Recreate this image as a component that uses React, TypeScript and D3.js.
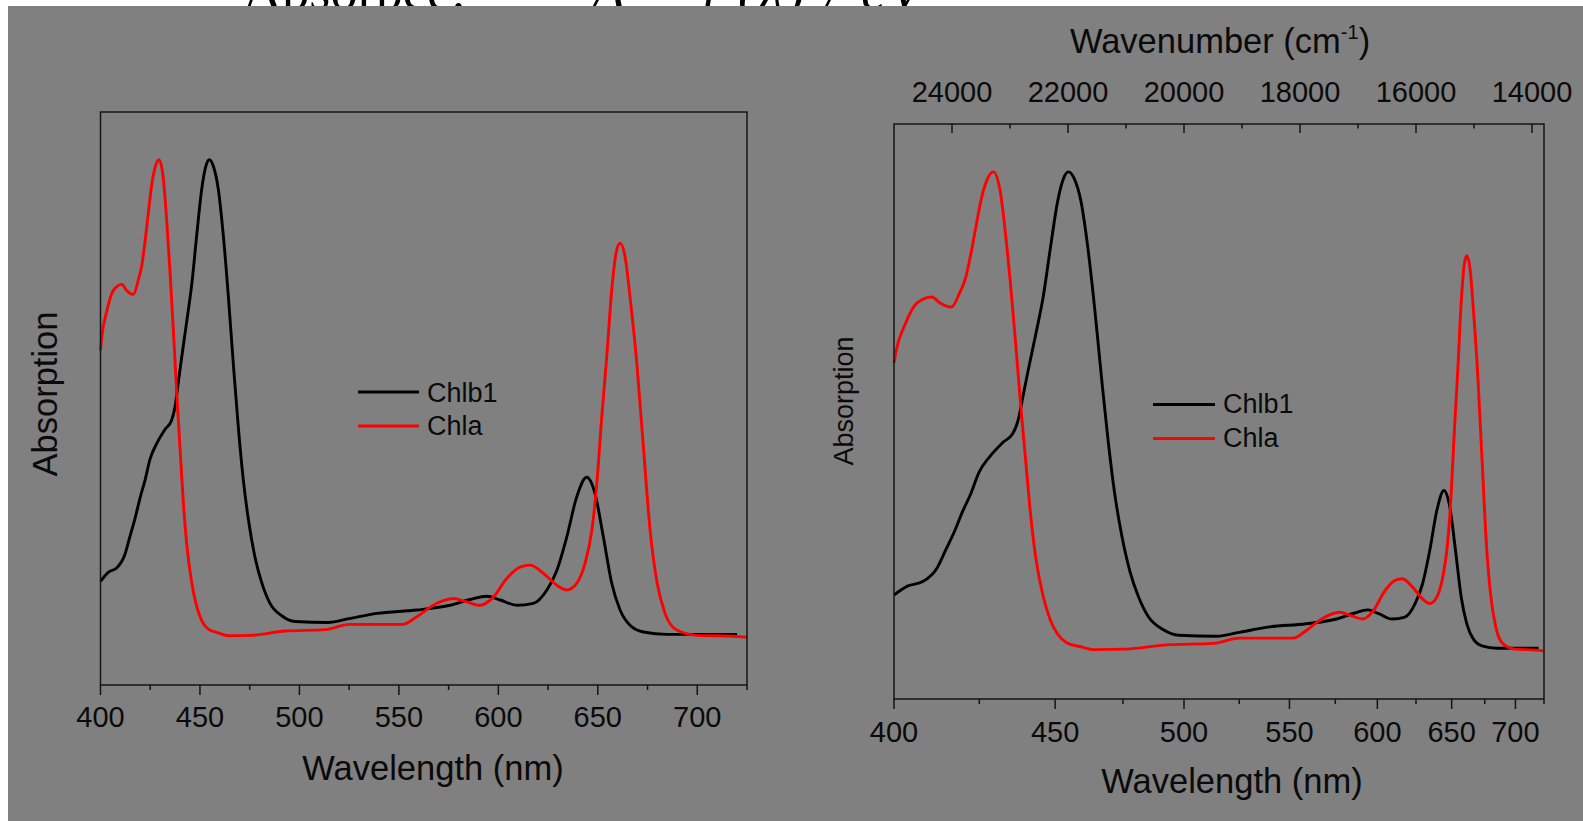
import React from "react";
import * as d3 from "d3";

// ---------- data ----------
const chlaWavelength = [400, 400.6, 403.1, 406.4, 410.7, 413.2, 416.5, 419, 420.7, 422.4, 424, 425.7, 427.4, 429.4, 431.6, 433.3, 435, 436.6, 438.3, 440, 441.6, 443.3, 445.8, 448.4, 450.9, 454.2, 459.2, 464.2, 476, 492.8, 512.9, 525, 552, 559, 567.3, 577.4, 584.1, 590.8, 597.5, 604.2, 610.9, 615.9, 622.6, 629.4, 634.4, 639.4, 643.6, 647, 649.5, 652, 654.5, 657, 659.5, 661.2, 663.7, 666.2, 669.6, 672.9, 676.3, 679.6, 683.8, 689.7, 699.7, 718.1, 725];
const chlaAbs = [0.601, 0.627, 0.682, 0.726, 0.739, 0.726, 0.718, 0.748, 0.777, 0.829, 0.887, 0.946, 0.983, 1.0, 0.96, 0.872, 0.762, 0.645, 0.513, 0.395, 0.285, 0.197, 0.116, 0.064, 0.035, 0.017, 0.009, 0.003, 0.004, 0.013, 0.016, 0.027, 0.027, 0.043, 0.067, 0.081, 0.074, 0.067, 0.084, 0.123, 0.147, 0.151, 0.134, 0.109, 0.099, 0.113, 0.155, 0.224, 0.322, 0.462, 0.588, 0.727, 0.811, 0.825, 0.797, 0.713, 0.574, 0.399, 0.224, 0.119, 0.05, 0.015, 0.004, 0.002, 0.0];

const chlb1Wavelength = [400, 403.9, 408.1, 412.3, 414.8, 417.3, 419.9, 422.4, 424.9, 428.3, 432.4, 435.8, 437.5, 439, 440.8, 443.3, 445.9, 448.4, 450.9, 453, 454.7, 456.7, 459.2, 461.7, 464.2, 466.8, 469.3, 471.8, 474.3, 477.7, 481, 485.2, 491.1, 497.8, 514.5, 525, 538.9, 559, 575.7, 585.8, 594.2, 600.9, 609.3, 617.6, 624.4, 629.4, 634.4, 639.4, 644.4, 648.6, 652.8, 657, 661.2, 666.2, 672.9, 684.7, 701.4, 720];
const chlb1Abs = [0.117, 0.136, 0.145, 0.174, 0.211, 0.248, 0.292, 0.329, 0.373, 0.406, 0.435, 0.455, 0.483, 0.53, 0.586, 0.66, 0.74, 0.843, 0.939, 0.987, 1.0, 0.987, 0.939, 0.843, 0.718, 0.571, 0.439, 0.329, 0.248, 0.167, 0.115, 0.071, 0.045, 0.033, 0.031, 0.039, 0.05, 0.057, 0.067, 0.079, 0.086, 0.078, 0.067, 0.071, 0.099, 0.14, 0.21, 0.294, 0.335, 0.301, 0.21, 0.113, 0.057, 0.025, 0.011, 0.006, 0.006, 0.006];

const seriesNames = ["Chlb1", "Chla"];
const seriesColors = ["#000000", "#ff0000"];

const wavelengthMajorTicks = [400, 450, 500, 550, 600, 650, 700];
const wavelengthMinorTicks = [425, 475, 525, 575, 625, 675, 725];
const wavenumberMajorTicks = [24000, 22000, 20000, 18000, 16000, 14000];
const wavenumberMinorTicks = [23000, 21000, 19000, 17000, 15000];

const lambdaDomain = [400, 725];
const absDomain = [-0.1, 1.1];

const FONT = "'Liberation Sans', Arial, sans-serif";
const SERIF = "'Liberation Serif', 'Times New Roman', serif";
const TEXT = "#0a0a0a";
const AXIS = "#141414";
const LW = 2.9;

type Pt = [number, number];
const chla: Pt[] = chlaWavelength.map((w, i) => [w, chlaAbs[i]]);
const chlb1: Pt[] = chlb1Wavelength.map((w, i) => [w, chlb1Abs[i]]);

function LeftPanel() {
  const L = 100.5, R = 747, T = 112, B = 685;
  const x = d3.scaleLinear().domain(lambdaDomain).range([L, R]);
  const y = d3.scaleLinear().domain(absDomain).range([B, T]);
  const line = d3.line<Pt>().x((d) => x(d[0])).y((d) => y(d[1])).curve(d3.curveMonotoneX);
  return (
    <g>
      {[chlb1, chla].map((s, i) => (
        <path key={i} d={line(s) || ""} fill="none" stroke={seriesColors[i]} strokeWidth={LW} strokeLinejoin="round" />
      ))}
      <rect x={L} y={T} width={R - L} height={B - T} fill="none" stroke={AXIS} strokeWidth={1.5} />
      {wavelengthMajorTicks.map((t) => (
        <g key={t}>
          <line x1={x(t)} x2={x(t)} y1={B} y2={B + 10} stroke={AXIS} strokeWidth={1.5} />
          <text x={x(t)} y={B + 42} fontSize={29} textAnchor="middle" fill={TEXT} fontFamily={FONT}>{t}</text>
        </g>
      ))}
      {wavelengthMinorTicks.map((t) => (
        <line key={t} x1={x(t)} x2={x(t)} y1={B} y2={B + 5} stroke={AXIS} strokeWidth={1.5} />
      ))}
      <text x={433} y={780} fontSize={34.5} textAnchor="middle" fill={TEXT} fontFamily={FONT}>Wavelength (nm)</text>
      <text transform="translate(57,394) rotate(-90)" fontSize={34.5} textAnchor="middle" fill={TEXT} fontFamily={FONT}>Absorption</text>
      {seriesNames.map((n, i) => (
        <g key={n}>
          <line x1={358} x2={419} y1={392 + i * 34} y2={392 + i * 34} stroke={seriesColors[i]} strokeWidth={LW} />
          <text x={427} y={401.5 + i * 33} fontSize={27} fill={TEXT} fontFamily={FONT}>{n}</text>
        </g>
      ))}
    </g>
  );
}

function RightPanel() {
  const L = 894, R = 1544, T = 124, B = 699;
  const nu = d3.scaleLinear().domain([1e7 / lambdaDomain[0], 1e7 / lambdaDomain[1]]).range([L, R]);
  const x = (w: number) => nu(1e7 / w);
  const y = d3.scaleLinear().domain(absDomain).range([B, T]);
  const line = d3.line<Pt>().x((d) => x(d[0])).y((d) => y(d[1])).curve(d3.curveMonotoneX);
  return (
    <g>
      {[chlb1, chla].map((s, i) => (
        <path key={i} d={line(s) || ""} fill="none" stroke={seriesColors[i]} strokeWidth={LW} strokeLinejoin="round" />
      ))}
      <rect x={L} y={T} width={R - L} height={B - T} fill="none" stroke={AXIS} strokeWidth={1.5} />
      {wavelengthMajorTicks.map((t) => (
        <g key={t}>
          <line x1={x(t)} x2={x(t)} y1={B} y2={B + 10} stroke={AXIS} strokeWidth={1.5} />
          <text x={x(t)} y={B + 43} fontSize={29} textAnchor="middle" fill={TEXT} fontFamily={FONT}>{t}</text>
        </g>
      ))}
      {wavelengthMinorTicks.map((t) => (
        <line key={t} x1={x(t)} x2={x(t)} y1={B} y2={B + 5} stroke={AXIS} strokeWidth={1.5} />
      ))}
      {wavenumberMajorTicks.map((t) => (
        <g key={t}>
          <line x1={nu(t)} x2={nu(t)} y1={T} y2={T + 9} stroke={AXIS} strokeWidth={1.5} />
          <text x={nu(t)} y={T - 22} fontSize={29} textAnchor="middle" fill={TEXT} fontFamily={FONT}>{t}</text>
        </g>
      ))}
      {wavenumberMinorTicks.map((t) => (
        <line key={t} x1={nu(t)} x2={nu(t)} y1={T} y2={T + 4.5} stroke={AXIS} strokeWidth={1.5} />
      ))}
      <text x={1232} y={793} fontSize={34.5} textAnchor="middle" fill={TEXT} fontFamily={FONT}>Wavelength (nm)</text>
      <text x={1220} y={53} fontSize={34.5} textAnchor="middle" fill={TEXT} fontFamily={FONT}>
        Wavenumber (cm<tspan dy={-14} fontSize={20}>-1</tspan><tspan dy={14}>)</tspan>
      </text>
      <text transform="translate(853,401) rotate(-90)" fontSize={27} textAnchor="middle" fill={TEXT} fontFamily={FONT}>Absorption</text>
      {seriesNames.map((n, i) => (
        <g key={n}>
          <line x1={1153} x2={1215} y1={404.5 + i * 34} y2={404.5 + i * 34} stroke={seriesColors[i]} strokeWidth={LW} />
          <text x={1223} y={413 + i * 34} fontSize={27} fill={TEXT} fontFamily={FONT}>{n}</text>
        </g>
      ))}
    </g>
  );
}

export default function App() {
  return (
    <svg width={1583} height={821} style={{ position: "absolute", left: 0, top: 0, background: "#ffffff" }}>
      <text x={243} y={9} fontSize={54} fill="#000" fontFamily={SERIF} textLength={223} lengthAdjust="spacing">Absorpce:</text>
      <text x={592} y={9} fontSize={54} fontStyle="italic" fill="#000" fontFamily={SERIF} textLength={330} lengthAdjust="spacing">A = f (λ) / eV</text>
      <rect x={8} y={6} width={1575} height={815} fill="#808080" />
      <LeftPanel />
      <RightPanel />
    </svg>
  );
}
